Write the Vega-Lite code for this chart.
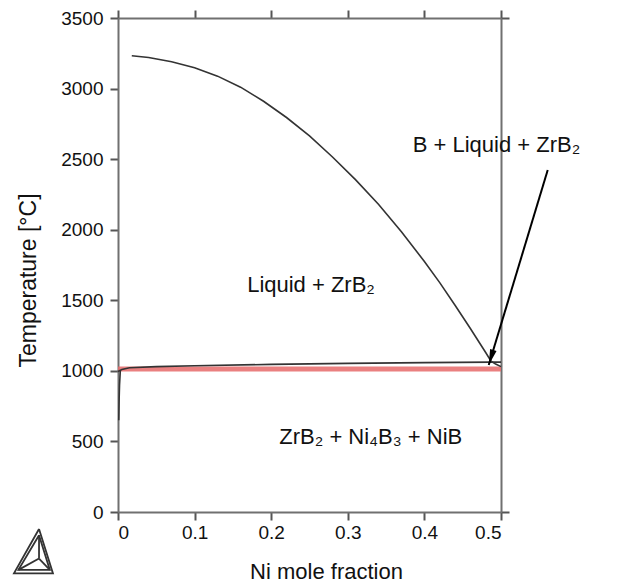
{
  "$schema": "https://vega.github.io/schema/vega-lite/v6.json",
  "width": 383,
  "height": 494,
  "autosize": "none",
  "padding": {"left": 118, "top": 18, "right": 139, "bottom": 73},
  "background": "white",
  "config": {
    "view": {"stroke": null},
    "font": "Liberation Sans",
    "axis": {
      "domainColor": "#707070",
      "domainWidth": 2,
      "tickColor": "#555555",
      "tickWidth": 2,
      "tickSize": 8,
      "labelFont": "Liberation Sans",
      "labelFontSize": 19,
      "labelColor": "#111111",
      "titleFont": "Liberation Sans",
      "titleFontSize": 22,
      "titleFontWeight": "normal",
      "titleColor": "#111111",
      "grid": false
    }
  },
  "datasets": {
    "red": [
      {"x": 0, "T": 1013},
      {"x": 0.5, "T": 1013}
    ],
    "curves": [
      {"curve": "liquidus", "o": 1, "x": 0.018, "T": 3232},
      {"curve": "liquidus", "o": 2, "x": 0.04, "T": 3220},
      {"curve": "liquidus", "o": 3, "x": 0.07, "T": 3190},
      {"curve": "liquidus", "o": 4, "x": 0.1, "T": 3148},
      {"curve": "liquidus", "o": 5, "x": 0.13, "T": 3088},
      {"curve": "liquidus", "o": 6, "x": 0.16, "T": 3010},
      {"curve": "liquidus", "o": 7, "x": 0.19, "T": 2910},
      {"curve": "liquidus", "o": 8, "x": 0.22, "T": 2795},
      {"curve": "liquidus", "o": 9, "x": 0.25, "T": 2665},
      {"curve": "liquidus", "o": 10, "x": 0.28, "T": 2515},
      {"curve": "liquidus", "o": 11, "x": 0.31, "T": 2355},
      {"curve": "liquidus", "o": 12, "x": 0.34, "T": 2180},
      {"curve": "liquidus", "o": 13, "x": 0.37, "T": 1985},
      {"curve": "liquidus", "o": 14, "x": 0.4, "T": 1775},
      {"curve": "liquidus", "o": 15, "x": 0.42, "T": 1625},
      {"curve": "liquidus", "o": 16, "x": 0.44, "T": 1465},
      {"curve": "liquidus", "o": 17, "x": 0.46, "T": 1300},
      {"curve": "liquidus", "o": 18, "x": 0.47, "T": 1215},
      {"curve": "liquidus", "o": 19, "x": 0.48, "T": 1130},
      {"curve": "liquidus", "o": 20, "x": 0.487, "T": 1068},
      {"curve": "liquidus", "o": 21, "x": 0.493, "T": 1048},
      {"curve": "liquidus", "o": 22, "x": 0.5, "T": 1030},
      {"curve": "solidus", "o": 1, "x": 0, "T": 995},
      {"curve": "solidus", "o": 2, "x": 0.005, "T": 1010},
      {"curve": "solidus", "o": 3, "x": 0.015, "T": 1022},
      {"curve": "solidus", "o": 4, "x": 0.05, "T": 1030},
      {"curve": "solidus", "o": 5, "x": 0.1, "T": 1036},
      {"curve": "solidus", "o": 6, "x": 0.2, "T": 1046},
      {"curve": "solidus", "o": 7, "x": 0.3, "T": 1053},
      {"curve": "solidus", "o": 8, "x": 0.4, "T": 1058},
      {"curve": "solidus", "o": 9, "x": 0.487, "T": 1062},
      {"curve": "solidus", "o": 10, "x": 0.5, "T": 1062},
      {"curve": "vertical", "o": 1, "x": 0.003, "T": 1000},
      {"curve": "vertical", "o": 2, "x": 0.002, "T": 900},
      {"curve": "vertical", "o": 3, "x": 0.0015, "T": 800},
      {"curve": "vertical", "o": 4, "x": 0.001, "T": 650}
    ],
    "arrow": [
      {"x": 0.561, "T": 2423, "x2": 0.484, "T2": 1041}
    ],
    "labels": [
      {"label": "Liquid + ZrB₂", "x": 0.252, "T": 1608},
      {"label": "ZrB₂ + Ni₄B₃ + NiB", "x": 0.33, "T": 531},
      {"label": "B + Liquid + ZrB₂", "x": 0.494, "T": 2600}
    ],
    "logo": [
      {"part": "outer", "o": 1, "x": -0.1031, "T": -120},
      {"part": "outer", "o": 2, "x": -0.1358, "T": -435},
      {"part": "outer", "o": 3, "x": -0.0849, "T": -435},
      {"part": "outer", "o": 4, "x": -0.1031, "T": -120},
      {"part": "inner", "o": 1, "x": -0.1031, "T": -165},
      {"part": "inner", "o": 2, "x": -0.1300, "T": -410},
      {"part": "inner", "o": 3, "x": -0.0890, "T": -410},
      {"part": "inner", "o": 4, "x": -0.1031, "T": -165},
      {"part": "s1", "o": 1, "x": -0.1031, "T": -330},
      {"part": "s1", "o": 2, "x": -0.1031, "T": -165},
      {"part": "s2", "o": 1, "x": -0.1031, "T": -330},
      {"part": "s2", "o": 2, "x": -0.1300, "T": -410},
      {"part": "s3", "o": 1, "x": -0.1031, "T": -330},
      {"part": "s3", "o": 2, "x": -0.0890, "T": -410}
    ]
  },
  "layer": [
    {
      "data": {"name": "red"},
      "mark": {"type": "line", "color": "#e66a6a", "strokeWidth": 5, "opacity": 0.85},
      "encoding": {
        "x": {
          "field": "x", "type": "quantitative",
          "scale": {"domain": [0, 0.5], "nice": false, "zero": false},
          "axis": {
            "orient": "bottom",
            "values": [0, 0.1, 0.2, 0.3, 0.4, 0.5],
            "labelExpr": "datum.value == 0 ? '0' : format(datum.value, '.1f')",
            "labelPadding": 3,
            "title": "Ni mole fraction",
            "titleX": 208,
            "titlePadding": 19
          }
        },
        "y": {
          "field": "T", "type": "quantitative",
          "scale": {"domain": [0, 3500], "nice": false, "zero": false},
          "axis": {
            "orient": "left",
            "values": [0, 500, 1000, 1500, 2000, 2500, 3000, 3500],
            "format": "d",
            "labelPadding": 7,
            "title": "Temperature [°C]",
            "titleY": 262,
            "titleFontSize": 23,
            "titlePadding": 20
          }
        }
      }
    },
    {
      "data": {"name": "curves"},
      "mark": {"type": "line", "color": "#333333", "strokeWidth": 1.6},
      "encoding": {
        "x": {
          "field": "x", "type": "quantitative",
          "scale": {"domain": [0, 0.5], "nice": false, "zero": false},
          "axis": {
            "orient": "top",
            "values": [0, 0.1, 0.2, 0.3, 0.4, 0.5],
            "labels": false,
            "title": null
          }
        },
        "y": {
          "field": "T", "type": "quantitative",
          "scale": {"domain": [0, 3500], "nice": false, "zero": false},
          "axis": {
            "orient": "right",
            "values": [0, 3500],
            "labels": false,
            "title": null
          }
        },
        "detail": {"field": "curve"},
        "order": {"field": "o", "type": "quantitative"}
      }
    },
    {
      "data": {"name": "arrow"},
      "mark": {"type": "rule", "color": "#000000", "strokeWidth": 2},
      "encoding": {
        "x": {"field": "x", "type": "quantitative", "scale": {"domain": [0, 0.5], "nice": false, "zero": false}, "axis": null},
        "y": {"field": "T", "type": "quantitative", "scale": {"domain": [0, 3500], "nice": false, "zero": false}, "axis": null},
        "x2": {"field": "x2"},
        "y2": {"field": "T2"}
      }
    },
    {
      "data": {"name": "arrow"},
      "mark": {"type": "point", "filled": true, "color": "#000000", "opacity": 1, "size": 500, "angle": 197, "shape": "M0,0L0.3,1.4L-0.3,1.4Z"},
      "encoding": {
        "x": {"field": "x2", "type": "quantitative", "scale": {"domain": [0, 0.5], "nice": false, "zero": false}, "axis": null},
        "y": {"field": "T2", "type": "quantitative", "scale": {"domain": [0, 3500], "nice": false, "zero": false}, "axis": null}
      }
    },
    {
      "data": {"name": "labels"},
      "mark": {"type": "text", "font": "Liberation Sans", "fontSize": 22, "color": "#111111", "align": "center", "baseline": "middle"},
      "encoding": {
        "x": {"field": "x", "type": "quantitative", "scale": {"domain": [0, 0.5], "nice": false, "zero": false}, "axis": null},
        "y": {"field": "T", "type": "quantitative", "scale": {"domain": [0, 3500], "nice": false, "zero": false}, "axis": null},
        "text": {"field": "label"}
      }
    },
    {
      "data": {"name": "logo"},
      "mark": {"type": "line", "color": "#333333", "strokeWidth": 1.8},
      "encoding": {
        "x": {"field": "x", "type": "quantitative", "scale": {"domain": [0, 0.5], "nice": false, "zero": false}, "axis": null},
        "y": {"field": "T", "type": "quantitative", "scale": {"domain": [0, 3500], "nice": false, "zero": false}, "axis": null},
        "detail": {"field": "part"},
        "order": {"field": "o", "type": "quantitative"}
      }
    }
  ],
  "resolve": {"axis": {"x": "independent", "y": "independent"}}
}
